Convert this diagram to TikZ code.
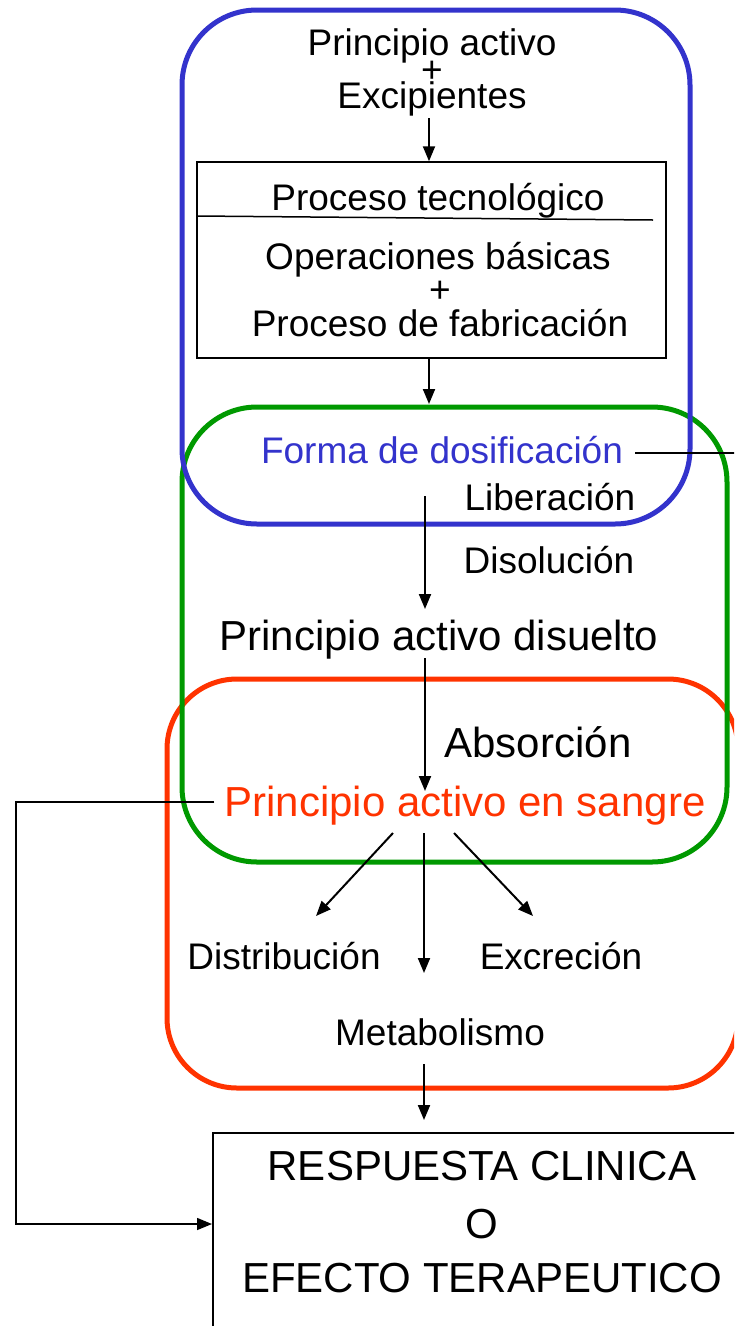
\documentclass[tikz,border=0pt]{standalone}
\usepackage{fontspec}
\setmainfont{Liberation Sans}
\usetikzlibrary{arrows.meta}
\definecolor{cblue}{HTML}{3333CC}
\definecolor{cgreen}{HTML}{009900}
\definecolor{cred}{HTML}{FF3300}
\begin{document}
\begin{tikzpicture}[x=1pt,y=-1pt,
  txt/.style={inner sep=0pt,font=\fontsize{37}{40}\selectfont},
  bigtxt/.style={inner sep=0pt,font=\fontsize{42}{46}\selectfont},
  arr/.style={line width=2pt,-{Triangle[length=15pt,width=12pt]}},
  plain/.style={line width=2pt},
  frame/.style={line width=5pt,rounded corners=75pt}]
\useasboundingbox (0,0) rectangle (734,1326);
\clip (0,0) rectangle (734,1326);
% frames
\draw[frame,cred,rounded corners=70pt] (167,679) rectangle (738,1088);
\draw[frame,cgreen] (182,407) rectangle (727,862);
\draw[frame,cblue] (182,10) rectangle (690,524);
% top texts
\node[txt] (pa) at (432,46) {Principio activo};
\node[txt] (plus1) at (432,72) {+};
\node[txt] (exc) at (432,99) {Excipientes};
% process box
\node[draw,line width=1.5pt,minimum width=469pt,minimum height=196pt,inner sep=0pt] (box) at (431.5,260) {};
\coordinate (sepL) at (197,216);
\coordinate (sepR) at (653,220);
\draw[line width=1.5pt] (sepL) -- (sepR);
\node[txt] (pt) at (438,201) {Proceso tecnológico};
\node[txt] (ob) at (438,260) {Operaciones básicas};
\node[txt] (plus2) at (440,292) {+};
\node[txt] (pf) at (440,323) {Proceso de fabricación};
\coordinate (a1s) at (429,118);
\draw[arr] (a1s) -- (a1s |- box.north);
\coordinate (a2s) at (429,358);
\coordinate (a2e) at (429,404);
\draw[arr] (a2s) -- (a2e);
% forma de dosificacion
\node[txt,text=cblue] (fd) at (442,450) {Forma de dosificación};
\coordinate (fdR) at (740,453);
\draw[plain] ([xshift=12pt]fd.east |- fdR) -- (fdR);
\node[txt] (lib) at (550,497) {Liberación};
\node[txt] (dis) at (549,560) {Disolución};
\coordinate (a3s) at (425,496);
\coordinate (a3e) at (425,609);
\draw[arr] (a3s) -- (a3e);
\node[bigtxt] (pad) at (439,640) {Principio activo disuelto};
\coordinate (a4s) at (425,658);
\coordinate (a4e) at (425,791);
\draw[arr] (a4s) -- (a4e);
\node[bigtxt] (abs) at (538,742) {Absorción};
\node[bigtxt,text=cred] (pas) at (465,806) {Principio activo en sangre};
% distribution arrows
\coordinate (dl) at (393,833);
\coordinate (dm) at (424,833);
\coordinate (dr) at (454,833);
\coordinate (el) at (316,916);
\coordinate (em) at (424,973);
\coordinate (er) at (533,916);
\draw[arr] (dl) -- (el);
\draw[arr] (dm) -- (em);
\draw[arr] (dr) -- (er);
\node[txt] (dist) at (284,956) {Distribución};
\node[txt] (excr) at (561,956) {Excreción};
\node[txt] (met) at (440,1032) {Metabolismo};
% bottom box
\node[draw,line width=1.5pt,minimum width=540pt,minimum height=220pt,inner sep=0pt,anchor=north west] (resp) at (212,1132) {};
\node[bigtxt] (r1) at (482,1166) {RESPUESTA CLINICA};
\node[bigtxt] (r2) at (482,1224) {O};
\node[bigtxt] (r3) at (482,1278) {EFECTO TERAPEUTICO};
\coordinate (a5s) at (424,1064);
\coordinate (a5e) at (424,1120);
\draw[arr] (a5s) -- (a5e);
% feedback line
\coordinate (fbL) at (16,802);
\coordinate (fbB) at (16,1224);
\draw[arr,line width=1.5pt] ([xshift=-10pt]pas.west |- fbL) -- (fbL) -- (fbB) -- (fbB -| resp.west);
\end{tikzpicture}
\end{document}
